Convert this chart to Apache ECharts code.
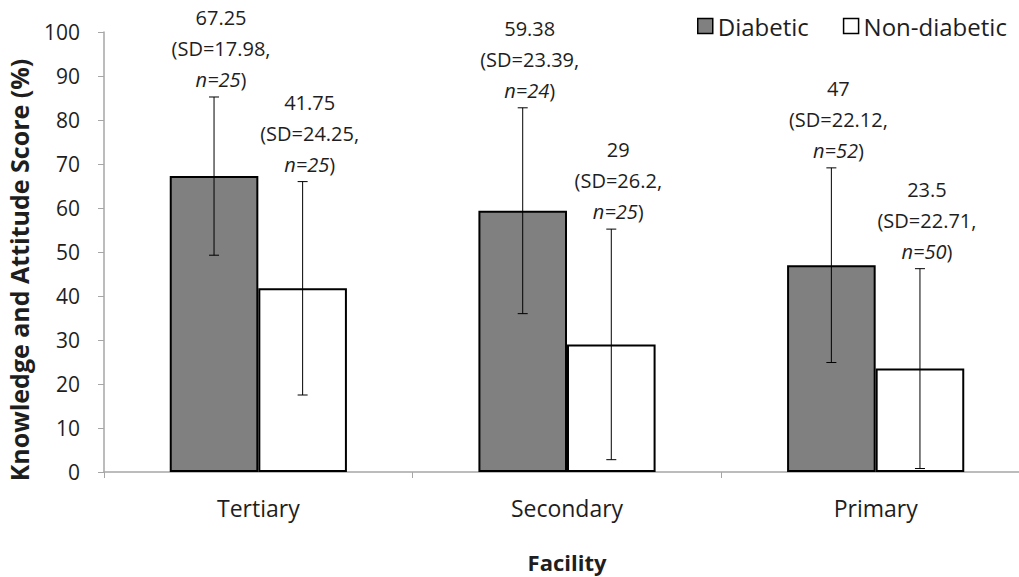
<!DOCTYPE html>
<html><head><meta charset="utf-8">
<script src="https://cdn.jsdelivr.net/npm/echarts@6/dist/echarts.min.js"></script>
<style>html,body{margin:0;padding:0;background:#fff}#c{width:1019px;height:577px}</style>
</head><body><div id="c"></div>
<script>
const categories = ['Tertiary', 'Secondary', 'Primary'];
const seriesNames = ['Diabetic', 'Non-diabetic'];
const diabeticMean = [67.25, 59.38, 47];
const diabeticSD = [17.98, 23.39, 22.12];
const diabeticN = [25, 24, 52];
const nonDiabeticMean = [41.75, 29, 23.5];
const nonDiabeticSD = [24.25, 26.2, 22.71];
const nonDiabeticN = [25, 25, 50];
const yTicks = [0, 10, 20, 30, 40, 50, 60, 70, 80, 90, 100];
const yAxisTitle = 'Knowledge and Attitude Score (%)';
const xAxisTitle = 'Facility';

const FONT = '"Open Sans", "Noto Sans", sans-serif';
const TXT = '#1e1e1e';
const GAP = 0.426;

function errData(mean, sd, n, side) {
  return categories.map((c, i) => [i, mean[i], sd[i], n[i], side]);
}

function renderErr(params, api) {
  const ci = api.value(0), v = api.value(1), sd = api.value(2), n = api.value(3), side = api.value(4);
  const catW = api.size([1, 0])[0];
  const bw = catW * (1 - GAP) / 2;
  const cx = api.coord([ci, 0])[0] + side * bw / 2;
  const yHi = api.coord([ci, v + sd])[1];
  const yLo = api.coord([ci, v - sd])[1];
  const cap = 5;
  const ls = { stroke: '#000', lineWidth: 1 };
  return {
    type: 'group',
    children: [
      { type: 'line', shape: { x1: cx, y1: yHi, x2: cx, y2: yLo }, style: ls },
      { type: 'line', shape: { x1: cx - cap, y1: yHi, x2: cx + cap, y2: yHi }, style: ls },
      { type: 'line', shape: { x1: cx - cap, y1: yLo, x2: cx + cap, y2: yLo }, style: ls },
      {
        type: 'text', x: cx + 7, y: yHi - 2,
        style: {
          text: '{v|' + v + '}\n{v|(SD=' + sd + ',}\n{i|n=' + n + '}{v|)}',
          align: 'center', verticalAlign: 'bottom',
          rich: {
            v: { fontSize: 20, lineHeight: 31, fontFamily: FONT, fill: TXT },
            i: { fontSize: 20, lineHeight: 31, fontFamily: FONT, fill: TXT, fontStyle: 'italic' }
          }
        }
      }
    ]
  };
}

const chart = echarts.init(document.getElementById('c'), null, { renderer: 'svg' });
chart.setOption({
  animation: false,
  backgroundColor: '#fff',
  textStyle: { fontFamily: FONT, color: TXT },
  grid: { left: 104, right: -11, top: 32, bottom: 105, containLabel: false, outerBoundsMode: 'none' },
  legend: {
    data: seriesNames,
    left: 692, top: 9,
    icon: 'rect', itemWidth: 15, itemHeight: 15, itemGap: 34,
    itemStyle: { borderColor: '#000', borderWidth: 1.5 },
    textStyle: { fontSize: 24, fontFamily: FONT, color: TXT }
  },
  graphic: [{
    type: 'text', x: 19, y: 270, rotation: Math.PI / 2,
    style: { text: yAxisTitle, fontSize: 25, fontWeight: 'bold', fontFamily: FONT, fill: TXT,
      align: 'center', verticalAlign: 'middle' }
  }],
  xAxis: {
    type: 'category', data: categories,
    name: xAxisTitle, nameLocation: 'middle', nameGap: 79,
    nameTextStyle: { fontSize: 22, fontWeight: 'bold', color: TXT, fontFamily: FONT, verticalAlign: 'top' },
    axisLine: { lineStyle: { color: '#a6a6a6', width: 1.5 } },
    axisTick: { show: true, length: 6, lineStyle: { color: '#a6a6a6' } },
    axisLabel: { fontSize: 23, color: TXT, margin: 24, fontFamily: FONT }
  },
  yAxis: {
    type: 'value', min: 0, max: 100, interval: 10,
    axisLine: { show: true, lineStyle: { color: '#a6a6a6', width: 1.5 } },
    axisTick: { show: true, length: 6, lineStyle: { color: '#a6a6a6' } },
    splitLine: { show: false },
    axisLabel: { fontSize: 21, color: TXT, margin: 24, fontFamily: FONT,
      formatter: v => yTicks.includes(v) ? String(v) : '' }
  },
  series: [
    { name: seriesNames[0], type: 'bar', data: diabeticMean, barGap: '0%', barCategoryGap: (GAP * 100) + '%',
      itemStyle: { color: '#808080', borderColor: '#000', borderWidth: 2 } },
    { name: seriesNames[1], type: 'bar', data: nonDiabeticMean, barGap: '0%', barCategoryGap: (GAP * 100) + '%',
      itemStyle: { color: '#fff', borderColor: '#000', borderWidth: 2 } },
    { type: 'custom', renderItem: renderErr, data: errData(diabeticMean, diabeticSD, diabeticN, -1), z: 5, silent: true },
    { type: 'custom', renderItem: renderErr, data: errData(nonDiabeticMean, nonDiabeticSD, nonDiabeticN, 1), z: 5, silent: true }
  ]
});
</script></body></html>
